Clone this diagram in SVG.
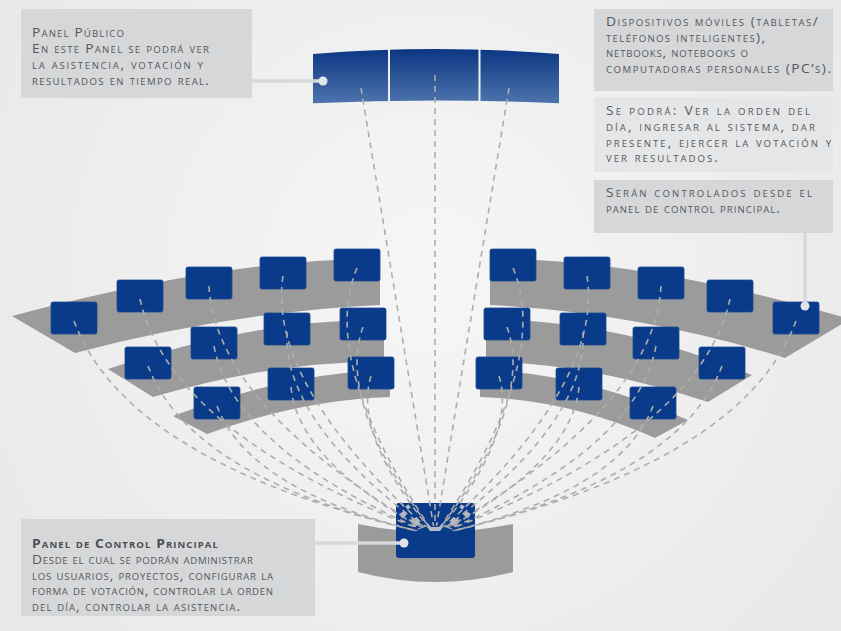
<svg xmlns="http://www.w3.org/2000/svg" width="841" height="631" viewBox="0 0 841 631">
<defs>
<radialGradient id="bgG" cx="430" cy="280" r="580" gradientUnits="userSpaceOnUse">
<stop offset="0" stop-color="#f6f6f6"/><stop offset="1" stop-color="#e7e7e7"/>
</radialGradient>
<linearGradient id="pubG" x1="0" y1="0" x2="0" y2="1">
<stop offset="0" stop-color="#0b3682"/><stop offset="1" stop-color="#4d74ad"/>
</linearGradient>
<clipPath id="cut"><path clip-rule="evenodd" d="M0,0H841V631H0Z M411,540a24,14 0 1,0 48,0a24,14 0 1,0 -48,0Z"/></clipPath>
</defs>
<style>
.band{fill:#9b9b9b}
.scr{fill:#0a3b8a;stroke:#1b4991;stroke-width:0.8}
.dash{fill:none;stroke:#adadad;stroke-width:1.6;stroke-dasharray:6 5}
.boxd{fill:#d5d7d9}
.boxl{fill:#e5e6e7}
.t{font-family:"Open Sans","Liberation Sans",sans-serif;font-size:12px;font-variant:small-caps;fill:#56585c}
.ttl{font-weight:bold;fill:#4c4e52}
.lead{fill:none;stroke:#d6d8db;stroke-width:3.5}
.dot{fill:#e1e4e8}
.ico{fill:#b7bcc6}
</style>
<rect width="841" height="631" fill="url(#bgG)"/>

<g id="rows">
<path class="band" d="M12,316 Q230,258 380,259 L380,305 Q230,312 75,353 Z"/>
<path class="band" d="M108,369 Q260,318 384,320 L384,362 Q280,360 153,397 Z"/>
<path class="band" d="M173,416 Q290,372 390,370 L390,397 Q300,400 207,434 Z"/>
<path class="band" d="M490,259 Q640,258 850,319 L785,358 Q640,313 490,305 Z"/>
<path class="band" d="M486,320 Q610,318 752,375 L708,402 Q585,362 486,362 Z"/>
<path class="band" d="M480,370 Q580,372 688,420 L655,438 Q570,400 480,397 Z"/>
</g>

<g id="seats">
<g id="seat-l1a"><rect class="scr" x="51" y="302" width="46" height="32" rx="2"/></g>
<g id="seat-l1b"><rect class="scr" x="117" y="280" width="46" height="32" rx="2"/></g>
<g id="seat-l1c"><rect class="scr" x="186" y="267" width="46" height="32" rx="2"/></g>
<g id="seat-l1d"><rect class="scr" x="260" y="257" width="46" height="32" rx="2"/></g>
<g id="seat-l1e"><rect class="scr" x="334" y="249" width="46" height="32" rx="2"/></g>
<g id="seat-l2a"><rect class="scr" x="125" y="347" width="46" height="32" rx="2"/></g>
<g id="seat-l2b"><rect class="scr" x="191" y="327" width="46" height="32" rx="2"/></g>
<g id="seat-l2c"><rect class="scr" x="264" y="313" width="46" height="32" rx="2"/></g>
<g id="seat-l2d"><rect class="scr" x="340" y="308" width="46" height="32" rx="2"/></g>
<g id="seat-l3a"><rect class="scr" x="194" y="387" width="46" height="32" rx="2"/></g>
<g id="seat-l3b"><rect class="scr" x="268" y="368" width="46" height="32" rx="2"/></g>
<g id="seat-l3c"><rect class="scr" x="348" y="357" width="46" height="32" rx="2"/></g>
<g id="seat-r1a"><rect class="scr" x="490" y="249" width="46" height="32" rx="2"/></g>
<g id="seat-r1b"><rect class="scr" x="564" y="257" width="46" height="32" rx="2"/></g>
<g id="seat-r1c"><rect class="scr" x="638" y="267" width="46" height="32" rx="2"/></g>
<g id="seat-r1d"><rect class="scr" x="707" y="280" width="46" height="32" rx="2"/></g>
<g id="seat-r1e"><rect class="scr" x="773" y="302" width="46" height="32" rx="2"/></g>
<g id="seat-r2a"><rect class="scr" x="484" y="308" width="46" height="32" rx="2"/></g>
<g id="seat-r2b"><rect class="scr" x="560" y="313" width="46" height="32" rx="2"/></g>
<g id="seat-r2c"><rect class="scr" x="633" y="327" width="46" height="32" rx="2"/></g>
<g id="seat-r2d"><rect class="scr" x="699" y="347" width="46" height="32" rx="2"/></g>
<g id="seat-r3a"><rect class="scr" x="476" y="357" width="46" height="32" rx="2"/></g>
<g id="seat-r3b"><rect class="scr" x="556" y="368" width="46" height="32" rx="2"/></g>
<g id="seat-r3c"><rect class="scr" x="630" y="387" width="46" height="32" rx="2"/></g>
</g>

<g id="public-panel">
<path d="M313,54 Q436,44 559,54 L559,103.3 Q436,97.7 313,103.3 Z" fill="url(#pubG)"/>
<line x1="389" y1="44" x2="389" y2="106" stroke="#eef0f4" stroke-width="2"/>
<line x1="479.5" y1="44" x2="479.5" y2="106" stroke="#eef0f4" stroke-width="2"/>
</g>

<g id="control-panel">
<path class="band" d="M358,524 Q435,540 513,524 L513,572 Q435,592 358,572 Z"/>
<rect x="396" y="503" width="79" height="55" rx="3" fill="#0a3b8a"/>
<g id="control-icons">
<rect class="ico" x="400" y="512" width="6" height="5" transform="rotate(-35 403 514.5)"/>
<rect class="ico" x="406" y="505" width="4" height="4" transform="rotate(-40 408 507)"/>
<rect class="ico" x="412" y="518" width="7" height="8" transform="rotate(-25 415.5 522)"/>
<rect class="ico" x="464" y="512" width="6" height="5" transform="rotate(35 467 514.5)"/>
<rect class="ico" x="460" y="505" width="4" height="4" transform="rotate(40 462 507)"/>
<rect class="ico" x="451" y="518" width="7" height="8" transform="rotate(25 454.5 522)"/>
<path class="ico" d="M427,523 L431,527 H439 L443,523 L443,527 L440,531 H430 L427,527 Z"/>
</g>
</g>

<g id="connectors">
<g clip-path="url(#cut)">
<path class="dash" d="M361,88 L435,535"/>
<path class="dash" d="M435,75 L435,535"/>
<path class="dash" d="M509,88 L435,535"/>
<path class="dash" d="M74,321 Q127.9,466 435,535"/>
<path class="dash" d="M140,299 Q169.9,435.1 435,535"/>
<path class="dash" d="M209,286 Q216.1,409.8 435,535"/>
<path class="dash" d="M283,276 Q266.6,385.5 435,535"/>
<path class="dash" d="M357,268 Q317.5,362.6 435,535"/>
<path class="dash" d="M148,366 Q191.1,481 435,535"/>
<path class="dash" d="M214,346 Q233.6,451.4 435,535"/>
<path class="dash" d="M287,332 Q282.4,424.5 435,535"/>
<path class="dash" d="M363,327 Q335.4,403.3 435,535"/>
<path class="dash" d="M217,406 Q249.6,493.5 435,535"/>
<path class="dash" d="M291,387 Q297.9,462.8 435,535"/>
<path class="dash" d="M371,376 Q352.5,436.4 435,535"/>
<path class="dash" d="M796,321 Q742.1,466 435,535"/>
<path class="dash" d="M730,299 Q700.1,435.1 435,535"/>
<path class="dash" d="M661,286 Q653.9,409.8 435,535"/>
<path class="dash" d="M587,276 Q603.4,385.5 435,535"/>
<path class="dash" d="M513,268 Q552.5,362.6 435,535"/>
<path class="dash" d="M722,366 Q678.9,481 435,535"/>
<path class="dash" d="M656,346 Q636.4,451.4 435,535"/>
<path class="dash" d="M583,332 Q587.6,424.5 435,535"/>
<path class="dash" d="M507,327 Q534.6,403.3 435,535"/>
<path class="dash" d="M653,406 Q620.4,493.5 435,535"/>
<path class="dash" d="M579,387 Q572.1,462.8 435,535"/>
<path class="dash" d="M499,376 Q517.5,436.4 435,535"/>
</g>
<line class="lead" x1="252" y1="81" x2="323" y2="81"/>
<circle class="dot" cx="323" cy="81" r="4.5"/>
<line class="lead" x1="805" y1="233" x2="805" y2="306"/>
<circle class="dot" cx="805" cy="306" r="4.5"/>
<line class="lead" x1="315" y1="543" x2="404" y2="543"/>
<circle class="dot" cx="404" cy="543" r="4.5"/>
</g>

<g id="note-public">
<rect class="boxd" x="21" y="9" width="231" height="89"/>
<g transform="matrix(1.15,0,0,1,-4.8,0)">
<text class="t" x="32" y="37" textLength="80" lengthAdjust="spacing">Panel Público</text>
<text class="t" x="32" y="53" textLength="153.9" lengthAdjust="spacing">En este Panel se podrá ver</text>
<text class="t" x="32" y="69" textLength="148.7" lengthAdjust="spacing">la asistencia, votación y</text>
<text class="t" x="32" y="85" textLength="153.9" lengthAdjust="spacing">resultados en tiempo real.</text>
</g>
</g>

<g id="note-devices">
<rect class="boxd" x="594" y="9" width="239" height="82"/>
<g transform="matrix(1.15,0,0,1,-90.9,0)">
<text class="t" x="606" y="26" textLength="184.3" lengthAdjust="spacing">Dispositivos móviles (tabletas/</text>
<text class="t" x="606" y="41.7" textLength="138.3" lengthAdjust="spacing">teléfonos inteligentes),</text>
<text class="t" x="606" y="57.3" textLength="123.5" lengthAdjust="spacing">netbooks, notebooks o</text>
<text class="t" x="606" y="73" textLength="195.7" lengthAdjust="spacing">computadoras personales (PC’s).</text>
</g>
</g>

<g id="note-actions">
<rect class="boxl" x="594" y="97" width="239" height="75"/>
<g transform="matrix(1.15,0,0,1,-90.9,0)">
<text class="t" x="606" y="115" textLength="177.4" lengthAdjust="spacing">Se podrá: Ver la orden del</text>
<text class="t" x="606" y="130.7" textLength="181.7" lengthAdjust="spacing">día, ingresar al sistema, dar</text>
<text class="t" x="606" y="146.7" textLength="195.7" lengthAdjust="spacing">presente, ejercer la votación y</text>
<text class="t" x="606" y="162.3" textLength="97.4" lengthAdjust="spacing">ver resultados.</text>
</g>
</g>

<g id="note-controlled">
<rect class="boxd" x="594" y="180" width="239" height="53"/>
<g transform="matrix(1.15,0,0,1,-90.9,0)">
<text class="t" x="606" y="197.3" textLength="179.1" lengthAdjust="spacing">Serán controlados desde el</text>
<text class="t" x="606" y="213.3" textLength="151.3" lengthAdjust="spacing">panel de control principal.</text>
</g>
</g>

<g id="note-control">
<rect class="boxd" x="21" y="519" width="294" height="97"/>
<g transform="matrix(1.15,0,0,1,-4.8,0)">
<text class="t ttl" x="32" y="548" textLength="161.7" lengthAdjust="spacing">Panel de Control Principal</text>
<text class="t" x="32" y="564" textLength="192.2" lengthAdjust="spacing">Desde el cual se podrán administrar</text>
<text class="t" x="32" y="580" textLength="209.6" lengthAdjust="spacing">los usuarios, proyectos, configurar la</text>
<text class="t" x="32" y="595.5" textLength="209.6" lengthAdjust="spacing">forma de votación, controlar la orden</text>
<text class="t" x="32" y="611" textLength="180.9" lengthAdjust="spacing">del día, controlar la asistencia.</text>
</g>
</g>
</svg>
